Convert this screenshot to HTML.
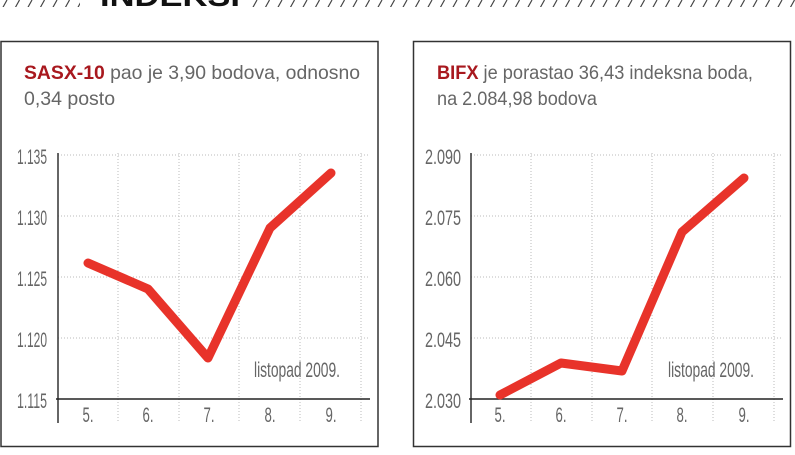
<!DOCTYPE html>
<html><head><meta charset="utf-8"><style>
body{margin:0;background:#fff;width:795px;height:450px;overflow:hidden}
</style></head><body>
<svg width="795" height="450" xmlns="http://www.w3.org/2000/svg">
<defs>
<pattern id="h" width="12.5" height="10" patternUnits="userSpaceOnUse">
<line x1="2" y1="9" x2="7" y2="0" stroke="#444" stroke-width="1.2"/>
</pattern>
</defs>
<rect x="0" y="0" width="80" height="7" fill="url(#h)"/>
<rect x="245" y="0" width="550" height="7" fill="url(#h)"/>
<text x="100" y="6" font-family="Liberation Sans" font-weight="900" font-size="30" fill="#111" textLength="140" lengthAdjust="spacingAndGlyphs">INDEKSI</text>

<!-- LEFT -->
<rect x="1" y="41.5" width="377" height="405" fill="none" stroke="#333" stroke-width="1.5"/>
<text x="24" y="79" font-family="Liberation Sans" font-size="19.5" fill="#666" textLength="336" lengthAdjust="spacingAndGlyphs"><tspan fill="#a8181e" font-weight="bold">SASX-10</tspan> pao je 3,90 bodova, odnosno</text>
<text x="24" y="105" font-family="Liberation Sans" font-size="19.5" fill="#666">0,34 posto</text>
<g stroke="#bbb" stroke-width="1" stroke-dasharray="1,2">
<line x1="58" y1="155" x2="370" y2="155"/><line x1="58" y1="216" x2="370" y2="216"/><line x1="58" y1="277" x2="370" y2="277"/><line x1="58" y1="338" x2="370" y2="338"/>
<line x1="118" y1="153" x2="118" y2="423"/><line x1="179" y1="153" x2="179" y2="423"/><line x1="239" y1="153" x2="239" y2="423"/><line x1="300" y1="153" x2="300" y2="423"/><line x1="361" y1="153" x2="361" y2="423"/>
</g>
<line x1="58" y1="153" x2="58" y2="423" stroke="#333" stroke-width="1.5"/>
<line x1="56" y1="399" x2="370" y2="399" stroke="#222" stroke-width="1.5"/>
<g font-family="Liberation Sans Narrow, Liberation Sans" font-size="21" fill="#666" text-anchor="end">
<text x="47" y="164" textLength="30" lengthAdjust="spacingAndGlyphs">1.135</text>
<text x="47" y="225" textLength="30" lengthAdjust="spacingAndGlyphs">1.130</text>
<text x="47" y="286" textLength="30" lengthAdjust="spacingAndGlyphs">1.125</text>
<text x="47" y="347" textLength="30" lengthAdjust="spacingAndGlyphs">1.120</text>
<text x="47" y="408" textLength="30" lengthAdjust="spacingAndGlyphs">1.115</text>
</g>
<g font-family="Liberation Sans Narrow, Liberation Sans" font-size="21" fill="#666" text-anchor="middle">
<text x="88" y="422" textLength="11" lengthAdjust="spacingAndGlyphs">5.</text><text x="148" y="422" textLength="11" lengthAdjust="spacingAndGlyphs">6.</text><text x="209" y="422" textLength="11" lengthAdjust="spacingAndGlyphs">7.</text><text x="270" y="422" textLength="11" lengthAdjust="spacingAndGlyphs">8.</text><text x="331" y="422" textLength="11" lengthAdjust="spacingAndGlyphs">9.</text>
<text x="297" y="377" textLength="86" lengthAdjust="spacingAndGlyphs">listopad 2009.</text>
</g>
<polyline points="88,263 148,289 208,358 270,228 331,173" fill="none" stroke="#e8332a" stroke-width="9" stroke-linecap="round" stroke-linejoin="round"/>

<!-- RIGHT -->
<rect x="413.5" y="41.5" width="377" height="405" fill="none" stroke="#333" stroke-width="1.5"/>
<text x="437" y="79" font-family="Liberation Sans" font-size="19.5" fill="#666" textLength="316" lengthAdjust="spacingAndGlyphs"><tspan fill="#a8181e" font-weight="bold">BIFX</tspan> je porastao 36,43 indeksna boda,</text>
<text x="437" y="105" font-family="Liberation Sans" font-size="19.5" fill="#666" textLength="160" lengthAdjust="spacingAndGlyphs">na 2.084,98 bodova</text>
<g stroke="#bbb" stroke-width="1" stroke-dasharray="1,2">
<line x1="471" y1="155" x2="783" y2="155"/><line x1="471" y1="216" x2="783" y2="216"/><line x1="471" y1="277" x2="783" y2="277"/><line x1="471" y1="338" x2="783" y2="338"/>
<line x1="531" y1="153" x2="531" y2="423"/><line x1="592" y1="153" x2="592" y2="423"/><line x1="652" y1="153" x2="652" y2="423"/><line x1="713" y1="153" x2="713" y2="423"/><line x1="774" y1="153" x2="774" y2="423"/>
</g>
<line x1="471" y1="153" x2="471" y2="423" stroke="#333" stroke-width="1.5"/>
<line x1="469" y1="399" x2="783" y2="399" stroke="#222" stroke-width="1.5"/>
<g font-family="Liberation Sans Narrow, Liberation Sans" font-size="21" fill="#666" text-anchor="end">
<text x="461" y="164" textLength="36" lengthAdjust="spacingAndGlyphs">2.090</text>
<text x="461" y="225" textLength="36" lengthAdjust="spacingAndGlyphs">2.075</text>
<text x="461" y="286" textLength="36" lengthAdjust="spacingAndGlyphs">2.060</text>
<text x="461" y="347" textLength="36" lengthAdjust="spacingAndGlyphs">2.045</text>
<text x="461" y="408" textLength="36" lengthAdjust="spacingAndGlyphs">2.030</text>
</g>
<g font-family="Liberation Sans Narrow, Liberation Sans" font-size="21" fill="#666" text-anchor="middle">
<text x="500" y="422" textLength="11" lengthAdjust="spacingAndGlyphs">5.</text><text x="561" y="422" textLength="11" lengthAdjust="spacingAndGlyphs">6.</text><text x="622" y="422" textLength="11" lengthAdjust="spacingAndGlyphs">7.</text><text x="682" y="422" textLength="11" lengthAdjust="spacingAndGlyphs">8.</text><text x="744" y="422" textLength="11" lengthAdjust="spacingAndGlyphs">9.</text>
<text x="711" y="377" textLength="86" lengthAdjust="spacingAndGlyphs">listopad 2009.</text>
</g>
<polyline points="500,395 561,363 622,371 682,232 744,178" fill="none" stroke="#e8332a" stroke-width="9" stroke-linecap="round" stroke-linejoin="round"/>
</svg>
</body></html>
